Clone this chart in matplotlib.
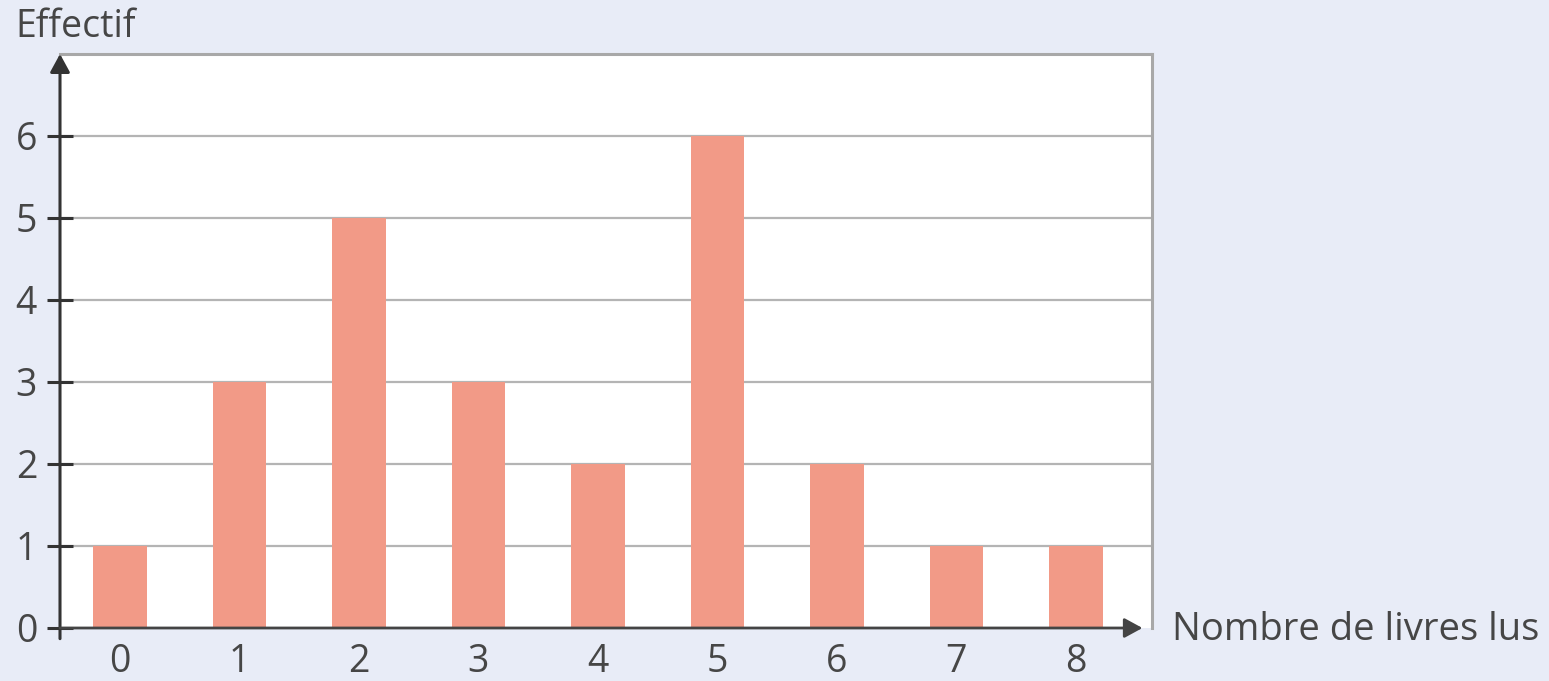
import matplotlib
matplotlib.use("Agg")
import matplotlib.pyplot as plt

categories = [0, 1, 2, 3, 4, 5, 6, 7, 8]
effectifs = [1, 3, 5, 3, 2, 6, 2, 1, 1]
y_ticks = [0, 1, 2, 3, 4, 5, 6]

plt.rcParams['font.family'] = ['Open Sans', 'DejaVu Sans']

W, H = 1549, 681
bg = '#e8ecf7'
fig = plt.figure(figsize=(W / 100, H / 100), dpi=100, facecolor=bg)
ax = fig.add_axes([60 / W, 1 - 628 / H, (1152 - 60) / W, (628 - 54) / H])
ax.set_facecolor('white')

ax.set_xlim(-0.502, 8.636)
ax.set_ylim(0, 7)

for y in y_ticks[1:]:
    ax.axhline(y, color='#b4b4b4', lw=1.6, zorder=1)

ax.bar(categories, effectifs, width=0.45, color='#f29a87', zorder=2)

for s in ['top', 'right']:
    ax.spines[s].set_color('#a8a8a8')
    ax.spines[s].set_linewidth(2.2)
ax.spines['bottom'].set_visible(False)
ax.spines['left'].set_visible(False)

text_col = '#464646'
axis_col = '#333333'
# y axis with arrow
ax.annotate('', xy=(-0.502, 7.0), xytext=(-0.502, -0.13), xycoords='data',
            arrowprops=dict(arrowstyle='-|>,head_length=1.1,head_width=0.6',
                            color=axis_col, lw=2.2, shrinkA=0, shrinkB=0),
            annotation_clip=False, zorder=5)
# x axis with arrow
ax.annotate('', xy=(8.556, 0), xytext=(-0.502, 0), xycoords='data',
            arrowprops=dict(arrowstyle='-|>,head_length=1.1,head_width=0.6',
                            color='#444444', lw=2.0, shrinkA=0, shrinkB=0),
            annotation_clip=False, zorder=5)

ax.set_yticks(y_ticks)
ax.set_yticklabels([str(v) for v in y_ticks])
ax.tick_params(axis='y', direction='inout', length=19, width=2.2, color=axis_col,
               pad=7, labelsize=27, labelcolor=text_col)
ax.set_xticks(categories)
ax.set_xticklabels([str(c) for c in categories])
ax.tick_params(axis='x', length=0, pad=11, labelsize=27, labelcolor=text_col)

fig.text(15 / W, 1 - 27 / H, 'Effectif', fontsize=27, color=text_col, va='center', ha='left')
fig.text(1172 / W, 1 - 630 / H, 'Nombre de livres lus', fontsize=27.5, color=text_col,
         va='center', ha='left')

fig.savefig('out.png', dpi=100, facecolor=bg)
